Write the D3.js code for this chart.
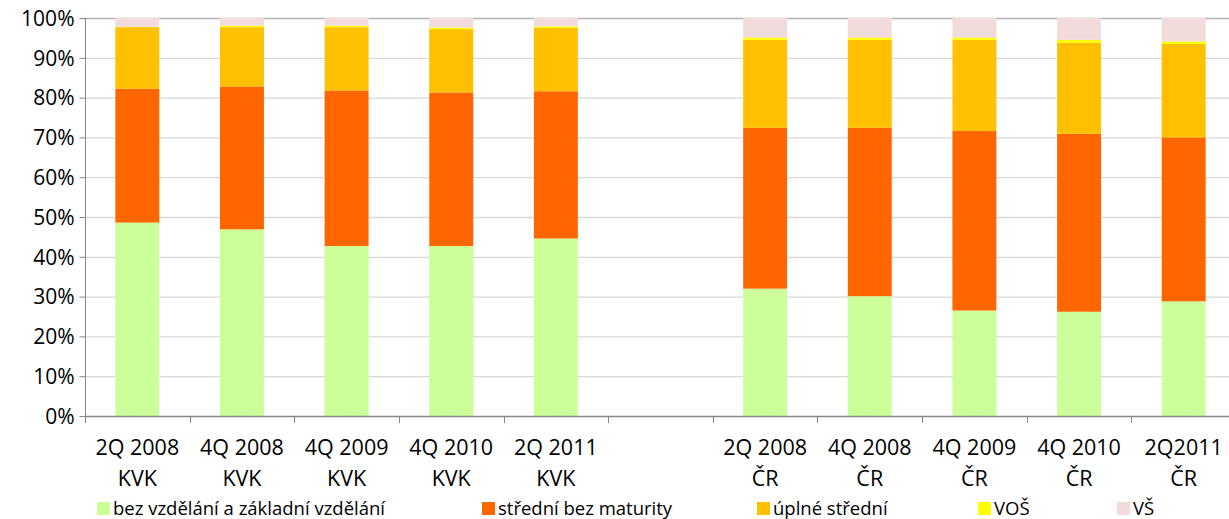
<!DOCTYPE html>
<html>
<head>
<meta charset="utf-8">
<script src="https://cdn.jsdelivr.net/npm/d3@7"></script>
<style>
body { margin: 0; background: #fff; }
text { font-family: "Open Sans", sans-serif; fill: #000; }
</style>
</head>
<body>
<div id="chart"></div>
<script>
// kategorie (prazdny slot = mezera mezi KVK a ČR)
var periods = ["2Q 2008", "4Q 2008", "4Q 2009", "4Q 2010", "2Q 2011", "", "2Q 2008", "4Q 2008", "4Q 2009", "4Q 2010", "2Q2011"];
var regions = ["KVK", "KVK", "KVK", "KVK", "KVK", "", "ČR", "ČR", "ČR", "ČR", "ČR"];

var seriesNames = ["bez vzdělání a základní vzdělání", "střední bez maturity", "úplné střední", "VOŠ", "VŠ"];
var seriesColors = ["#ccff99", "#ff6600", "#ffc000", "#ffff00", "#f2dcdb"];

var zakladni = [48.6, 46.9, 42.7, 42.7, 44.6, null, 32.0, 30.1, 26.5, 26.2, 28.8];
var stredniBez = [33.6, 35.9, 39.1, 38.6, 37.0, null, 40.4, 42.3, 45.1, 44.7, 41.2];
var uplneStredni = [15.5, 14.9, 15.9, 15.9, 15.9, null, 22.1, 22.1, 22.9, 22.9, 23.5];
var vos = [0.1, 0.4, 0.4, 0.4, 0.4, null, 0.6, 0.6, 0.6, 0.7, 0.6];
var vs = [2.2, 1.9, 1.9, 2.4, 2.1, null, 4.9, 4.9, 4.9, 5.5, 5.9];

var yTicks = [0, 10, 20, 30, 40, 50, 60, 70, 80, 90, 100];

var width = 1229, height = 519;
var margin = {left: 85, right: -7, top: 18, bottom: 103};

var svg = d3.select("#chart").append("svg")
  .attr("width", width)
  .attr("height", height);

var cats = periods.map(function(p, i) { return i; });
var rows = cats.map(function(i) {
  return {cat: i, s0: zakladni[i], s1: stredniBez[i], s2: uplneStredni[i], s3: vos[i], s4: vs[i]};
}).filter(function(d) { return d.s0 != null; });

var x = d3.scaleBand()
  .domain(cats)
  .range([margin.left, width - margin.right])
  .paddingInner(0.58)
  .paddingOuter(0.29);

var y = d3.scaleLinear()
  .domain([0, 100])
  .range([height - margin.bottom, margin.top]);

// mrizka
svg.append("g")
  .selectAll("line")
  .data(yTicks.slice(1))
  .join("line")
  .attr("x1", margin.left)
  .attr("x2", width - margin.right)
  .attr("y1", function(d) { return y(d) + 0.5; })
  .attr("y2", function(d) { return y(d) + 0.5; })
  .attr("stroke", function(d) { return d == 100 ? "#b3b3b3" : "#d9d9d9"; })
  .attr("stroke-width", 1.3);

var keys = ["s0", "s1", "s2", "s3", "s4"];
var stacked = d3.stack().keys(keys)(rows);

svg.append("g")
  .selectAll("g")
  .data(stacked)
  .join("g")
  .attr("fill", function(d, i) { return seriesColors[i]; })
  .selectAll("rect")
  .data(function(d) { return d; })
  .join("rect")
  .attr("x", function(d) { return x(d.data.cat); })
  .attr("width", x.bandwidth())
  .attr("y", function(d) { return y(d[1]); })
  .attr("height", function(d) { return y(d[0]) - y(d[1]); });

// osa y
var yAxis = svg.append("g")
  .attr("transform", "translate(" + (margin.left + 0.5) + ",0)")
  .call(d3.axisLeft(y).tickValues(yTicks).tickSize(6).tickPadding(5).tickFormat(function(d) { return d + "%"; }));
yAxis.select(".domain").attr("stroke", "#868686").attr("d", "M0," + y(100) + "V" + y(0));
yAxis.selectAll(".tick line").attr("stroke", "#868686");
yAxis.selectAll(".tick text").style("font-size", "21px").attr("dy", "0.35em");

// osa x
var step = x.step();
var bound = d3.range(cats.length + 1).map(function(i) { return margin.left + i * step; });
var xg = svg.append("g");
xg.append("line")
  .attr("x1", margin.left).attr("x2", width)
  .attr("y1", y(0) + 0.5).attr("y2", y(0) + 0.5)
  .attr("stroke", "#868686").attr("stroke-width", 1.3);
xg.selectAll(".tk")
  .data(bound)
  .join("line")
  .attr("class", "tk")
  .attr("x1", function(d) { return Math.round(d) + 0.5; })
  .attr("x2", function(d) { return Math.round(d) + 0.5; })
  .attr("y1", y(0))
  .attr("y2", y(0) + 7)
  .attr("stroke", "#868686");

var lbl = xg.selectAll(".lbl")
  .data(cats)
  .join("text")
  .attr("class", "lbl")
  .attr("text-anchor", "middle")
  .style("font-size", "21.5px");
lbl.append("tspan")
  .attr("x", function(d) { return x(d) + x.bandwidth() / 2; })
  .attr("y", y(0) + 39)
  .text(function(d) { return periods[d]; });
lbl.append("tspan")
  .attr("x", function(d) { return x(d) + x.bandwidth() / 2; })
  .attr("y", y(0) + 70)
  .text(function(d) { return regions[d]; });

// legenda
var legendX = [97, 482, 757, 978, 1117];
var leg = svg.append("g")
  .selectAll("g")
  .data(seriesNames)
  .join("g")
  .attr("transform", function(d, i) { return "translate(" + legendX[i] + "," + 509 + ")"; });
leg.append("rect")
  .attr("x", 0).attr("y", -7)
  .attr("width", 13).attr("height", 13)
  .attr("fill", function(d, i) { return seriesColors[i]; });
leg.append("text")
  .attr("x", 16)
  .attr("y", 0)
  .attr("dy", "0.35em")
  .style("font-size", "18.5px")
  .text(function(d) { return d; });
</script>
</body>
</html>
